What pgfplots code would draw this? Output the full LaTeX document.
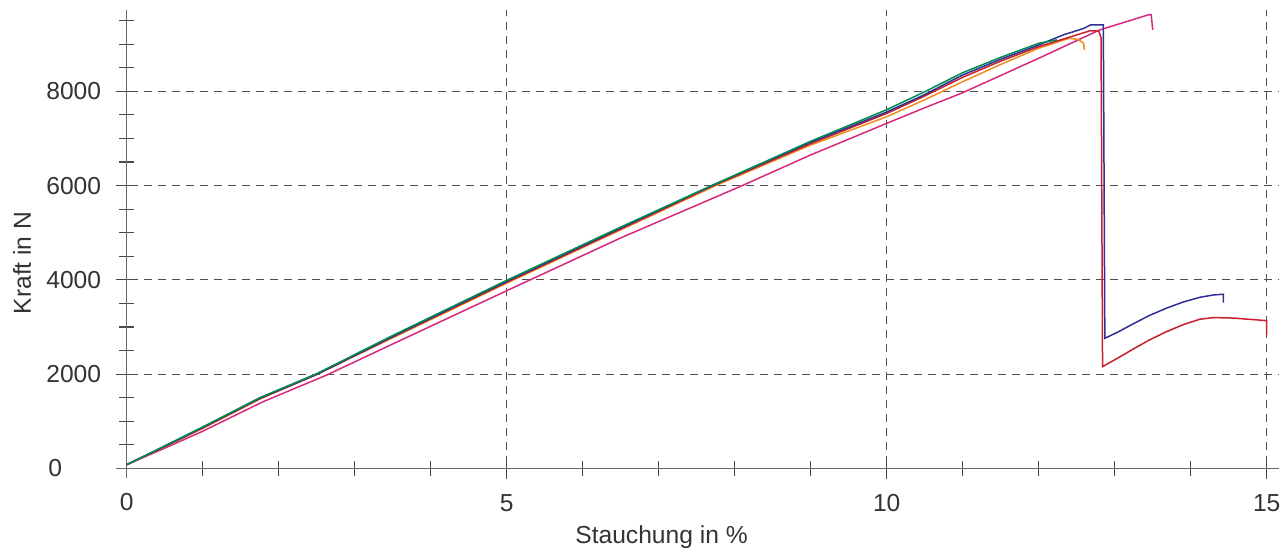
\documentclass[border=0pt]{standalone}
\usepackage{pgfplots}
\pgfplotsset{compat=1.18}
\usepackage{fontspec}
\setmainfont{Liberation Sans}
\definecolor{cnavy}{RGB}{46,49,146}
\definecolor{cred}{RGB}{200,30,45}
\definecolor{cgreen}{RGB}{0,140,80}
\definecolor{corange}{RGB}{240,140,30}
\definecolor{cmag}{RGB}{215,40,125}
\definecolor{txtgray}{RGB}{51,51,51}
\definecolor{axgray}{RGB}{105,105,105}
\definecolor{tickgray}{RGB}{75,75,75}
\definecolor{gridgray}{RGB}{80,80,80}
\newcommand{\lblfont}{\fontsize{12.3}{14}\selectfont}
\begin{document}
\begin{tikzpicture}
\begin{axis}[
  scale only axis, width=581.4pt, height=233.85pt,
  xmin=-0.14, xmax=15.16, ymin=-200, ymax=9720,
  axis lines=middle, axis line style={-, draw=axgray, line width=0.6pt},
  clip=false,
  xtick={0,5,10,15}, ytick={0,2000,4000,6000,8000},
  minor xtick={1,2,3,4,6,7,8,9,11,12,13,14},
  minor ytick={500,1000,1500,2500,3000,3500,4500,5000,5500,6500,7000,7500,8500,9000,9500},
  tick align=center, major tick length=11pt, minor tick length=7.8pt,
  every tick/.style={draw=tickgray, line width=0.6pt},
  xmajorgrids, ymajorgrids,
  major grid style={draw=gridgray, line width=0.5pt, dash pattern=on 4pt off 3pt},
  /pgf/number format/assume math mode=true,
  /pgf/number format/1000 sep={},
  every tick label/.append style={font=\lblfont, text=txtgray},
  xticklabel style={yshift=-4pt},
  yticklabel style={text width=27.4pt, align=left, xshift=-3.75pt},
]
\addplot[cmag, line width=0.75pt] coordinates {(0,80)(0.5,430)(1,790)(1.8,1420)(2.63,1980)(3.5,2640)(5,3770)(6.5,4890)(8.1,6000)(9,6650)(10,7320)(10.5,7650)(11,7970)(12,8700)(12.8,9300)(13.44,9620)(13.48,9625)(13.5,9300)};
\addplot[corange, line width=0.75pt] coordinates {(0,80)(0.5,460)(1,850)(1.75,1470)(2.5,2000)(3.5,2770)(5,3930)(6.5,5060)(7.75,6000)(9,6860)(10,7460)(10.5,7820)(11,8204)(11.5,8570)(12,8912)(12.4,9124)(12.52,9100)(12.59,9020)(12.6,8880)};
\addplot[cred, line width=0.75pt] coordinates {(0,80)(0.5,465)(1,860)(1.75,1480)(2.5,1990)(3.5,2790)(5,3950)(6.5,5080)(7.72,6000)(9,6890)(10,7530)(10.5,7900)(11,8297)(11.5,8640)(12,8946)(12.4,9145)(12.68,9285)(12.79,9275)(12.82,9130)(12.84,2160)(13.05,2350)(13.24,2530)(13.45,2720)(13.68,2900)(13.9,3050)(14.12,3165)(14.3,3200)(14.56,3190)(14.8,3160)(15.0,3135)(15.0,2830)};
\addplot[cnavy, line width=0.75pt] coordinates {(0,80)(0.5,470)(1,870)(1.75,1490)(2.5,2000)(3.5,2800)(5,3970)(6.5,5100)(7.7,6000)(9,6920)(10,7560)(10.5,7930)(11,8346)(11.5,8680)(12,8982)(12.33,9200)(12.5,9286)(12.6,9340)(12.68,9406)(12.85,9410)(12.87,2760)(13.05,2900)(13.24,3065)(13.45,3240)(13.68,3400)(13.9,3530)(14.12,3630)(14.3,3680)(14.43,3695)(14.43,3515)};
\addplot[cgreen, line width=0.75pt] coordinates {(0,80)(0.5,480)(1,880)(1.75,1500)(2.5,2010)(3.5,2820)(5,3990)(6.5,5120)(7.71,6010)(9,6940)(10,7610)(10.5,7990)(11,8395)(11.5,8720)(12,9018)(12.24,9090)};
\node[font=\lblfont, text=txtgray] at (axis cs:0,-710) {0};
\node[font=\lblfont, text=txtgray, anchor=west, inner sep=0pt] at (axis cs:-1.036,0) {0};
\node[font=\lblfont, text=txtgray] at (axis cs:7.037,-1453) {Stauchung in \%};
\node[font=\lblfont, text=txtgray, rotate=90] at (axis cs:-1.378,4358) {Kraft in N};
\coordinate (bbsw) at (axis cs:-1.667,-1750);
\coordinate (bbne) at (axis cs:15.28,9936);
\end{axis}
\pgfresetboundingbox
\useasboundingbox (bbsw) rectangle (bbne);
\end{tikzpicture}
\end{document}
